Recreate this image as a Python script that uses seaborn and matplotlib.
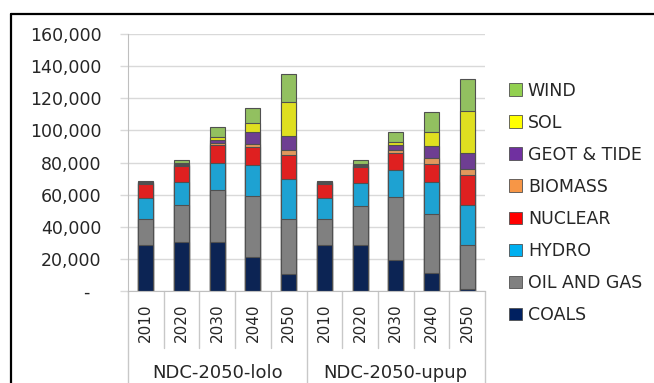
import numpy as np
import pandas as pd
import matplotlib.pyplot as plt
import seaborn as sns
from matplotlib.patches import Patch
from matplotlib.lines import Line2D
from matplotlib.ticker import FuncFormatter
import matplotlib.transforms as mtransforms

groups = ["NDC-2050-lolo", "NDC-2050-upup"]
years = ["2010", "2020", "2030", "2040", "2050"]

# bottom to top in the stack
series = ["COALS", "OIL AND GAS", "HYDRO", "NUCLEAR", "BIOMASS", "GEOT & TIDE", "SOL", "WIND"]
colors = ["#002060", "#808080", "#00B0F0", "#FF0000", "#F79646", "#7030A0", "#FFFF00", "#92D050"]

# values: lolo 2010..2050 then upup 2010..2050
coals    = [28900, 30300, 30500, 21000, 10400, 28900, 28900, 19600, 11500, 1200]
oil_gas  = [16200, 23100, 32200, 38400, 34300, 16200, 24100, 39000, 36700, 27700]
hydro    = [12500, 14700, 16700, 19300, 25300, 12500, 14300, 17000, 19500, 24900]
nuclear  = [9300, 9800, 11400, 10800, 14500, 9300, 9600, 10400, 11200, 18500]
biomass  = [600, 800, 1400, 1900, 3300, 600, 1200, 1800, 4000, 3700]
geot     = [500, 600, 1700, 7300, 8800, 500, 500, 3000, 7400, 10200]
sol      = [0, 300, 1700, 5600, 21100, 0, 300, 1800, 8400, 25800]
wind     = [700, 2000, 6600, 9700, 17300, 700, 2500, 6300, 12800, 19700]

values = [coals, oil_gas, hydro, nuclear, biomass, geot, sol, wind]

slots = [f"{g}|{y}" for g in groups for y in years]
df = pd.DataFrame({s: v for s, v in zip(series, values)})
df["slot"] = slots
cum = df[series].cumsum(axis=1)
cum["slot"] = slots

sns.set_style("white")
plt.rcParams["font.family"] = ["DejaVu Sans"]

fig = plt.figure(figsize=(6.54, 3.83), dpi=100)
ax = fig.add_axes([128 / 654, 1 - 291 / 383, (485 - 128) / 654, (291 - 34) / 383])

# draw the cumulative totals from the top layer down so each layer overlays the next
for name, col in reversed(list(zip(series, colors))):
    sns.barplot(data=cum, x="slot", y=name, order=slots, color=col, width=0.42,
                edgecolor="#505050", linewidth=0.8, errorbar=None, ax=ax)

ax.set_ylim(0, 160000)
ax.set_xlim(-0.5, len(slots) - 0.5)
ax.set_yticks(np.arange(0, 160001, 20000))
ax.yaxis.set_major_formatter(FuncFormatter(lambda v, p: "-  " if v == 0 else f"{int(v):,}"))
ax.yaxis.grid(True, color="#D9D9D9", linewidth=1)
ax.set_axisbelow(True)
ax.set_xlabel("")
ax.set_ylabel("")
ax.set_xticks(range(len(slots)))
ax.set_xticklabels([s.split("|")[1] for s in slots], rotation=90, fontsize=11)
ax.tick_params(axis="x", length=0, pad=9)
ax.tick_params(axis="y", length=6, color="#D9D9D9", width=1, labelsize=12.5, pad=13, left=True)
for side in ["top", "right"]:
    ax.spines[side].set_visible(False)
ax.spines["left"].set_color("#BFBFBF")
ax.spines["bottom"].set_color("#BFBFBF")

# category separators below the axis
trans = mtransforms.blended_transform_factory(ax.transData, ax.transAxes)
for i in range(len(slots) + 1):
    x = i - 0.5
    bottom = -0.45 if i % len(years) == 0 else -0.22
    ax.add_line(Line2D([x, x], [0, bottom], transform=trans, color="#C8C8C8",
                       linewidth=1, clip_on=False))
for gi, g in enumerate(groups):
    ax.text(gi * len(years) + (len(years) - 1) / 2, -0.32, g, transform=trans,
            ha="center", va="center", fontsize=13)

handles = [Patch(facecolor=c, edgecolor="#505050", linewidth=0.6, label=s)
           for s, c in zip(series, colors)]
handles = handles[::-1]
fig.legend(handles=handles, loc="upper left", bbox_to_anchor=(500 / 654, 1 - 73 / 383),
           frameon=False, fontsize=12.5, handlelength=0.75, handleheight=0.75,
           handletextpad=0.35, labelspacing=0.81, borderpad=0)

# outer frame
fig.add_artist(Line2D([11 / 654, 11 / 654], [0, 1 - 14 / 383], color="black", linewidth=1.6))
fig.add_artist(Line2D([11 / 654, 1], [1 - 14 / 383, 1 - 14 / 383], color="black", linewidth=1.6))

fig.savefig("out.png", dpi=100)
